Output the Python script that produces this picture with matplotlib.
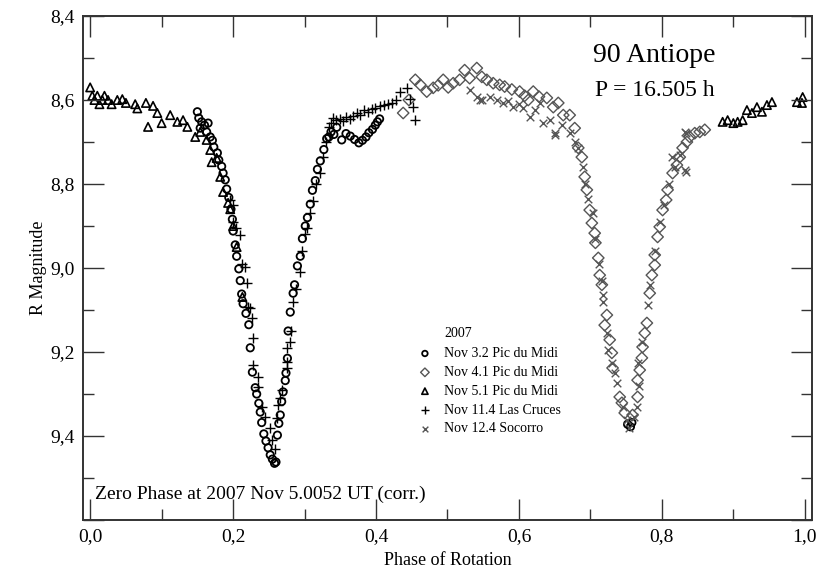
import numpy as np
import matplotlib.pyplot as plt
from matplotlib.ticker import MultipleLocator, FuncFormatter

plt.rcParams['font.family'] = ['Liberation Serif', 'DejaVu Serif']

# Nov 3.2 Pic du Midi (open circles)
nov3_phase = [0.150, 0.152, 0.156, 0.154, 0.160, 0.165, 0.163, 0.168, 0.171, 0.173,
              0.178, 0.180, 0.184, 0.186, 0.189, 0.191, 0.194, 0.197, 0.199, 0.200,
              0.203, 0.205, 0.208, 0.210, 0.212, 0.214, 0.218, 0.222, 0.224, 0.227,
              0.231, 0.233, 0.236, 0.238, 0.240, 0.243, 0.246, 0.249, 0.252, 0.255,
              0.258, 0.260, 0.262, 0.264, 0.266, 0.268, 0.270, 0.273, 0.274, 0.276,
              0.277, 0.280, 0.284, 0.286, 0.290, 0.294, 0.297, 0.301, 0.304, 0.308,
              0.311, 0.315, 0.318, 0.322, 0.327, 0.331, 0.334, 0.337, 0.341, 0.345,
              0.352, 0.358, 0.364, 0.370, 0.376, 0.381, 0.386, 0.390, 0.395, 0.399,
              0.402, 0.405, 0.752, 0.756, 0.758]
nov3_mag = [8.628, 8.643, 8.652, 8.667, 8.660, 8.655, 8.676, 8.688, 8.696, 8.712,
            8.726, 8.743, 8.758, 8.774, 8.790, 8.812, 8.832, 8.860, 8.884, 8.912,
            8.945, 8.972, 9.002, 9.030, 9.062, 9.085, 9.108, 9.135, 9.190, 9.248,
            9.285, 9.300, 9.322, 9.343, 9.368, 9.395, 9.412, 9.428, 9.445, 9.455,
            9.465, 9.462, 9.398, 9.370, 9.350, 9.318, 9.295, 9.268, 9.250, 9.215,
            9.150, 9.105, 9.060, 9.040, 8.995, 8.972, 8.930, 8.900, 8.880, 8.848,
            8.815, 8.792, 8.765, 8.745, 8.718, 8.692, 8.688, 8.676, 8.682, 8.665,
            8.695, 8.680, 8.686, 8.694, 8.702, 8.696, 8.688, 8.678, 8.670, 8.660,
            8.652, 8.645, 9.372, 9.378, 9.368]

# Nov 4.1 Pic du Midi (open diamonds)
nov4_phase = [0.438, 0.446, 0.455, 0.462, 0.471, 0.480, 0.487, 0.494, 0.501, 0.508,
              0.517, 0.524, 0.531, 0.541, 0.548, 0.555, 0.564, 0.573, 0.580, 0.590,
              0.601, 0.608, 0.613, 0.620, 0.628, 0.639, 0.648, 0.655, 0.662, 0.671,
              0.678, 0.683, 0.688, 0.692, 0.695, 0.699, 0.702, 0.706, 0.707, 0.711,
              0.713, 0.716, 0.723, 0.720, 0.727, 0.730, 0.731, 0.741, 0.744, 0.748,
              0.759, 0.766, 0.766, 0.769, 0.772, 0.773, 0.776, 0.779, 0.783, 0.786,
              0.790, 0.790, 0.794, 0.797, 0.801, 0.806, 0.808, 0.815, 0.821, 0.825,
              0.829, 0.835, 0.839, 0.846, 0.853, 0.860]
nov4_mag = [8.631, 8.600, 8.552, 8.564, 8.580, 8.571, 8.565, 8.552, 8.570, 8.560,
            8.552, 8.529, 8.548, 8.524, 8.545, 8.552, 8.560, 8.564, 8.568, 8.575,
            8.580, 8.590, 8.600, 8.580, 8.592, 8.595, 8.617, 8.607, 8.636, 8.636,
            8.667, 8.714, 8.736, 8.783, 8.814, 8.862, 8.893, 8.917, 8.940, 8.976,
            9.017, 9.040, 9.112, 9.136, 9.171, 9.202, 9.238, 9.307, 9.321, 9.345,
            9.350, 9.307, 9.267, 9.243, 9.214, 9.188, 9.155, 9.131, 9.060, 9.017,
            8.993, 8.969, 8.926, 8.902, 8.862, 8.838, 8.814, 8.774, 8.755, 8.736,
            8.714, 8.700, 8.688, 8.679, 8.676, 8.671]

# Nov 5.1 Pic du Midi (open triangles)
nov5_phase = [0.000, 0.003, 0.006, 0.010, 0.013, 0.017, 0.020, 0.025, 0.030, 0.038,
              0.045, 0.050, 0.063, 0.066, 0.078, 0.081, 0.088, 0.094, 0.100, 0.112,
              0.122, 0.130, 0.136, 0.147, 0.154, 0.163, 0.168, 0.170, 0.177, 0.182,
              0.186, 0.193, 0.196, 0.200, 0.205, 0.213, 0.885, 0.892, 0.900, 0.906,
              0.913, 0.919, 0.926, 0.933, 0.940, 0.947, 0.954, 0.989, 0.997, 0.996]
nov5_mag = [8.570, 8.590, 8.600, 8.590, 8.610, 8.600, 8.590, 8.600, 8.610, 8.600,
            8.598, 8.607, 8.610, 8.620, 8.607, 8.664, 8.614, 8.631, 8.655, 8.636,
            8.652, 8.648, 8.664, 8.688, 8.676, 8.695, 8.719, 8.748, 8.738, 8.783,
            8.819, 8.845, 8.860, 8.900, 8.950, 9.069, 8.652, 8.648, 8.655, 8.652,
            8.648, 8.624, 8.631, 8.617, 8.628, 8.612, 8.605, 8.605, 8.593, 8.607]

# Nov 11.4 Las Cruces (plus signs)
nov11_phase = [0.196, 0.200, 0.200, 0.204, 0.210, 0.213, 0.217, 0.219, 0.221, 0.224,
               0.226, 0.228, 0.228, 0.235, 0.235, 0.240, 0.245, 0.252, 0.254, 0.258,
               0.261, 0.263, 0.266, 0.269, 0.275, 0.275, 0.275, 0.280, 0.281, 0.284,
               0.288, 0.293, 0.297, 0.301, 0.304, 0.308, 0.312, 0.316, 0.321, 0.326,
               0.330, 0.334, 0.337, 0.340, 0.344, 0.349, 0.354, 0.358, 0.363, 0.368,
               0.373, 0.378, 0.383, 0.389, 0.394, 0.399, 0.405, 0.411, 0.417, 0.423,
               0.428, 0.434, 0.443, 0.447, 0.452, 0.455]
nov11_mag = [8.838, 8.850, 8.890, 8.905, 8.921, 8.990, 8.997, 9.036, 9.093, 9.095,
             9.120, 9.167, 9.231, 9.260, 9.283, 9.330, 9.355, 9.381, 9.410, 9.430,
             9.357, 9.326, 9.310, 9.290, 9.238, 9.224, 9.190, 9.176, 9.150, 9.081,
             9.050, 9.010, 8.960, 8.920, 8.905, 8.870, 8.840, 8.800, 8.775, 8.735,
             8.700, 8.665, 8.655, 8.643, 8.648, 8.645, 8.650, 8.640, 8.645, 8.638,
             8.630, 8.636, 8.625, 8.628, 8.622, 8.618, 8.615, 8.612, 8.610, 8.608,
             8.600, 8.580, 8.571, 8.598, 8.617, 8.648]

# Nov 12.4 Socorro (crosses)
nov12_phase = [0.531, 0.541, 0.545, 0.548, 0.560, 0.569, 0.578, 0.585, 0.592, 0.600,
               0.606, 0.615, 0.622, 0.629, 0.634, 0.643, 0.650, 0.651, 0.660, 0.671,
               0.678, 0.683, 0.690, 0.693, 0.697, 0.704, 0.707, 0.712, 0.716, 0.718,
               0.718, 0.723, 0.725, 0.730, 0.734, 0.737, 0.745, 0.751, 0.754, 0.761,
               0.765, 0.766, 0.768, 0.772, 0.780, 0.783, 0.790, 0.797, 0.803, 0.810,
               0.814, 0.818, 0.826, 0.832, 0.832, 0.834, 0.834]
nov12_mag = [8.576, 8.593, 8.600, 8.600, 8.592, 8.600, 8.607, 8.602, 8.617, 8.610,
             8.620, 8.640, 8.625, 8.607, 8.655, 8.648, 8.679, 8.683, 8.660, 8.679,
             8.700, 8.714, 8.760, 8.800, 8.835, 8.869, 8.930, 8.990, 9.030, 9.064,
             9.081, 9.155, 9.195, 9.226, 9.250, 9.274, 9.330, 9.362, 9.380, 9.355,
             9.331, 9.226, 9.280, 9.175, 9.088, 9.040, 8.960, 8.890, 8.850, 8.800,
             8.736, 8.760, 8.730, 8.676, 8.767, 8.679, 8.771]

fig = plt.figure(figsize=(8.26, 5.71), dpi=100)
ax = fig.add_axes([0.1005, 0.0893, 0.8825, 0.8827])

ax.scatter(nov3_phase, nov3_mag, s=28, marker='o', facecolors='none',
           edgecolors='black', linewidths=1.3, label='Nov 3.2 Pic du Midi')
ax.scatter(nov4_phase, nov4_mag, s=34, marker='D', facecolors='none',
           edgecolors='#555555', linewidths=1.0, label='Nov 4.1 Pic du Midi')
ax.scatter(nov5_phase, nov5_mag, s=36, marker='^', facecolors='none',
           edgecolors='black', linewidths=1.2, label='Nov 5.1 Pic du Midi')
ax.scatter(nov11_phase, nov11_mag, s=55, marker='+', color='black',
           linewidths=1.0, label='Nov 11.4 Las Cruces')
ax.scatter(nov12_phase, nov12_mag, s=30, marker='x', color='#555555',
           linewidths=1.0, label='Nov 12.4 Socorro')

ax.set_xlim(-0.01, 1.01)
ax.set_ylim(9.6, 8.4)

# decimal comma labels; no label on the bottom y tick
def comma_fmt(v, pos):
    if v > 9.55:
        return ''
    return f"{v:.1f}".replace('.', ',')

ax.xaxis.set_major_locator(MultipleLocator(0.2))
ax.xaxis.set_minor_locator(MultipleLocator(0.1))
ax.yaxis.set_major_locator(MultipleLocator(0.2))
ax.yaxis.set_minor_locator(MultipleLocator(0.1))
ax.xaxis.set_major_formatter(FuncFormatter(comma_fmt))
ax.yaxis.set_major_formatter(FuncFormatter(comma_fmt))
ax.tick_params(which='both', direction='in', top=True, right=True,
               colors='#333333', width=1.0)
ax.tick_params(which='major', length=15, labelsize=14, pad=6, labelcolor='black')
ax.tick_params(which='minor', length=8)
for sp in ax.spines.values():
    sp.set_linewidth(1.4)
    sp.set_color('#333333')

ax.set_xlabel('Phase of Rotation', fontsize=13, labelpad=5)
ax.set_ylabel('R Magnitude', fontsize=13, labelpad=2)

ax.text(0.79, 8.493, '90 Antiope', fontsize=20, ha='center', va='center')
ax.text(0.79, 8.578, 'P = 16.505 h', fontsize=17, ha='center', va='center')
ax.text(0.007, 9.54, 'Zero Phase at 2007 Nov 5.0052 UT (corr.)', fontsize=14,
        ha='left', va='center')

ax.text(0.495, 9.155, '2007', fontsize=10, ha='left', va='center')
ax.legend(loc='upper left', bbox_to_anchor=(0.4595, 0.343), frameon=False,
          fontsize=10, borderpad=0, borderaxespad=0, handlelength=1.0,
          handletextpad=0.9, labelspacing=0.42, scatterpoints=1,
          markerscale=0.75)

fig.savefig('out.png', dpi=100)
